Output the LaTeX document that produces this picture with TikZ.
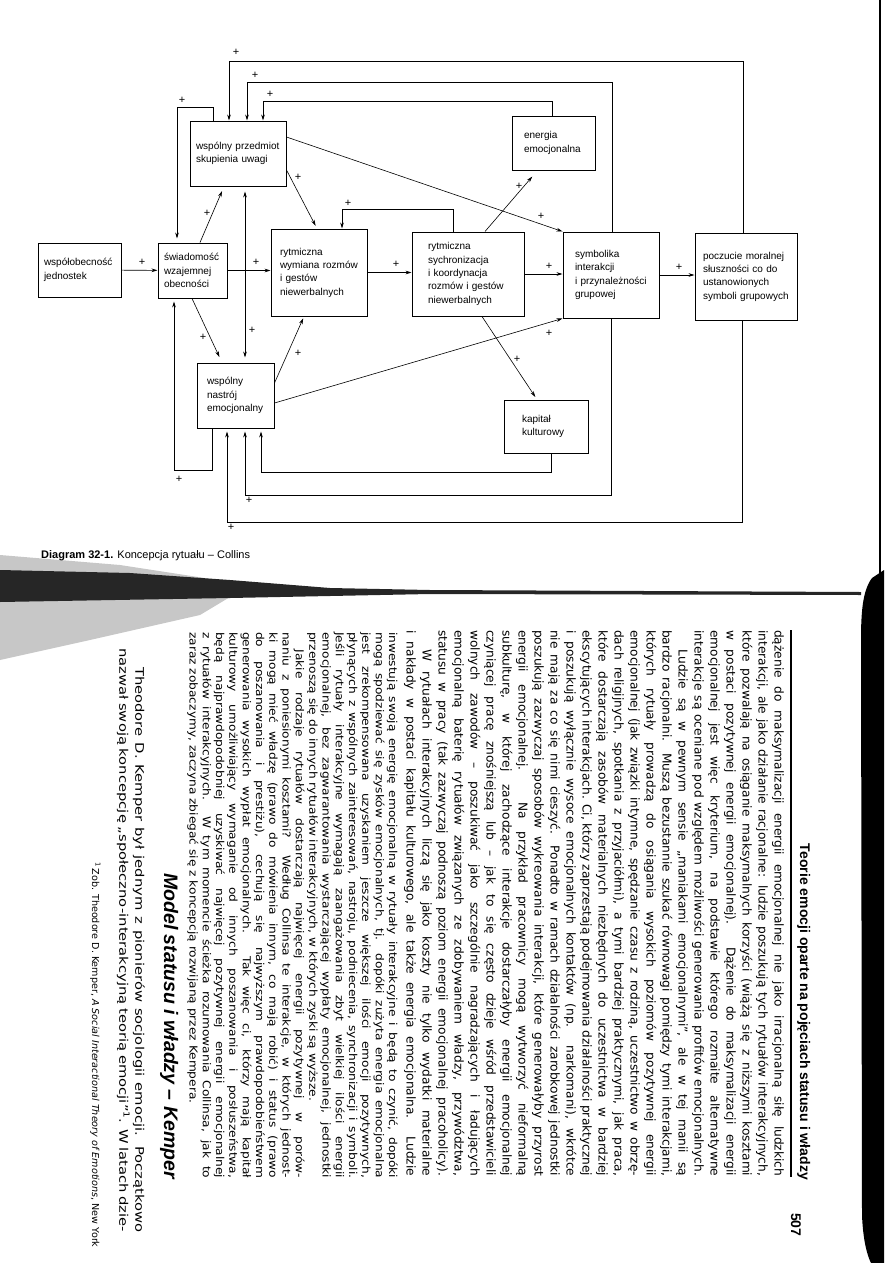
\documentclass[tikz,border=0pt]{standalone}
\usepackage{fontspec}
\setmainfont{Liberation Sans}
\newfontfamily\bodyfont{DejaVu Sans}
\newfontfamily\lowfont[FakeStretch=1.12]{DejaVu Sans}
\newfontfamily\widefont[FakeStretch=1.25]{DejaVu Sans}
\usetikzlibrary{positioning, arrows.meta, calc}

\newlength{\colw}
\setlength{\colw}{546pt}
\newcommand{\jl}[1]{\makebox[\colw][s]{#1}}
\newcommand{\el}[1]{\makebox[\colw][l]{#1}}
\newcommand{\ind}{\hspace*{1.6em}}

\begin{document}
\begin{tikzpicture}[x=1pt, y=-1pt]
    \tikzstyle{blk} = [draw, line width=1pt, align=left, inner xsep=6pt, font=\fontsize{10}{13.3}\selectfont]
    \tikzstyle{arrow} = [line width=0.6pt, -{Stealth[length=6pt, width=3.6pt]}]
    \tikzstyle{twoway} = [line width=0.6pt, {Stealth[length=6pt, width=3.6pt]}-{Stealth[length=6pt, width=3.6pt]}]
    \tikzstyle{pl} = [font=\fontsize{11}{11}\selectfont, inner sep=0pt]
    \tikzstyle{txt} = [rotate=-90, inner sep=0pt, align=left, font=\bodyfont\fontsize{12.2}{16}\selectfont]

    \useasboundingbox (0,0) rectangle (893,1263);

    % scan edges
    \fill[black!22] (0,555) -- (120,565) -- (250,585) -- (200,615) -- (90,640) -- (0,660) -- cycle;
    \fill[black!85] (0,570) -- (130,573) -- (230,580) -- (330,588) -- (430,590) -- (861,592) -- (861,595) -- (430,594) -- (330,596) -- (230,598) -- (0,602) -- cycle;
    \draw[line width=1.5pt] (880,0) -- (880,578);
    \fill[black] (884,570) -- (872,578) .. controls (863,590) and (861,610) .. (861,640) -- (862,1215) .. controls (863,1240) and (867,1255) .. (871,1263) -- (884,1263) -- cycle;

    % boxes
    \node[blk, minimum width=83pt, minimum height=54pt, text width=71pt] (wob) at (79.5,270) {współobecność\\jednostek};
    \node[blk, minimum width=69pt, minimum height=55pt, text width=57pt] (swo) at (192.5,270.5) {świadomość\\wzajemnej\\obecności};
    \node[blk, minimum width=96pt, minimum height=65pt, text width=84pt] (wpu) at (238,153.5) {wspólny przedmiot\\skupienia uwagi};
    \node[blk, minimum width=83pt, minimum height=54pt, inner xsep=12pt, text width=59pt] (ene) at (553.5,143) {energia\\emocjonalna};
    \node[blk, minimum width=96pt, minimum height=87pt, inner xsep=9pt, text width=78pt] (rwr) at (319,272.5) {rytmiczna\\wymiana rozmów\\i gestów\\niewerbalnych};
    \node[blk, minimum width=112pt, minimum height=84pt, inner xsep=16pt, text width=80pt] (rsk) at (468,274) {rytmiczna\\sychronizacja\\i koordynacja\\rozmów i gestów\\niewerbalnych};
    \node[blk, minimum width=96pt, minimum height=86pt, inner xsep=12pt, text width=72pt] (sym) at (611,275) {symbolika\\interakcji\\i przynależności\\grupowej};
    \node[blk, minimum width=102pt, minimum height=87pt, inner xsep=8pt, text width=86pt] (pmo) at (746,276.5) {poczucie moralnej\\słuszności co do\\ustanowionych\\symboli grupowych};
    \node[blk, minimum width=77pt, minimum height=65pt, inner xsep=10pt, text width=57pt] (nas) at (235.5,395.5) {wspólny\\nastrój\\emocjonalny};
    \node[blk, minimum width=84pt, minimum height=53pt, inner xsep=18pt, text width=48pt] (kap) at (546,426.5) {kapitał\\kulturowy};

    % main chain
    \draw[arrow] (wob) -- (swo) node[pl] (p1) at (142,262) {+};
    \draw[arrow] (swo.east) -- (swo.east -| rwr.west) node[pl] (p2) at (256,262) {+};
    \draw[arrow] (rwr.east) -- (rwr.east -| rsk.west) node[pl] (p3) at (396,264) {+};
    \draw[arrow] (rsk.east) -- (rsk.east -| sym.west) node[pl] (p4) at (549,266) {+};
    \draw[arrow] (sym.east) -- (sym.east -| pmo.west) node[pl] (p5) at (679,267) {+};

    % diagonals
    \draw[arrow, shorten >=5pt] ([xshift=7.5pt]swo.north) -- ([xshift=-14pt]wpu.south) node[pl] (p6) at (207,213) {+};
    \draw[twoway, shorten >=5pt, shorten <=5pt] ([xshift=7pt]wpu.south) -- ([xshift=9.5pt]nas.north) node[pl] (p7) at (252,330) {+};
    \draw[arrow, shorten >=3pt] ([yshift=-16.5pt]wpu.east) -- ([xshift=-2pt]rwr.north) node[pl] (p8) at (298,177) {+};
    \draw[arrow] ([yshift=16.5pt]wpu.east) -- (sym.north west) node[pl] (p9) at (541,216) {+};
    \draw[arrow, shorten >=8pt] ([xshift=17pt]rsk.north) -- ([xshift=-16pt]ene.south) node[pl] (p10) at (519,186) {+};
    \draw[arrow, shorten >=6pt] ([xshift=-0.5pt]swo.south) -- ([xshift=-13.5pt]nas.north) node[pl] (p11) at (203,337) {+};
    \draw[arrow, shorten >=2pt] ([yshift=12.5pt]nas.east) -- ([xshift=-15pt]rwr.south) node[pl] (p12) at (298,353) {+};
    \draw[arrow] ([yshift=-7.5pt]nas.east) -- (sym.south west) node[pl] (p13) at (549,333) {+};
    \draw[arrow, shorten >=3pt] ([xshift=14pt]rsk.south) -- ([xshift=-9pt]kap.north) node[pl] (p14) at (517,359) {+};

    % feedback loops, top
    \coordinate (k15) at (177,107);
    \coordinate (k16) at (342,209);
    \coordinate (k17) at (263,101);
    \coordinate (k18) at (247,82);
    \coordinate (k19) at (229,61);
    \draw[arrow, shorten >=4pt] ([xshift=-25pt]wpu.north) |- (k15) -- (k15 |- swo.north) node[pl] (p15) at (182,100) {+};
    \draw[arrow] ([xshift=-15pt]rsk.north) |- (k16) -- (k16 |- rwr.north) node[pl] (p16) at (348,203) {+};
    \draw[arrow] ([xshift=-1.5pt]ene.north) |- (k17) -- (k17 |- wpu.north) node[pl] (p17) at (270,94) {+};
    \draw[arrow] ([xshift=1pt]sym.north) |- (k18) -- (k18 |- wpu.north) node[pl] (p18) at (255,75) {+};
    \draw[arrow] ([xshift=-3pt]pmo.north) |- (k19) -- (k19 |- wpu.north) node[pl] (p19) at (236,52) {+};

    % feedback loops, bottom
    \coordinate (k20) at (174,470);
    \coordinate (k21) at (261,472);
    \coordinate (k22) at (245,495);
    \coordinate (k23) at (227,522);
    \draw[arrow, shorten >=3pt] ([xshift=-23.5pt]nas.south) |- (k20) -- (k20 |- swo.south) node[pl] (p20) at (179,479) {+};
    \draw[arrow, shorten >=3pt] ([xshift=5pt]kap.south) |- (k21) -- (k21 |- nas.south);
    \draw[arrow, shorten >=3pt] (sym.south) |- (k22) -- (k22 |- nas.south) node[pl] (p22) at (249,500) {+};
    \draw[arrow, shorten >=3pt] ([xshift=-4pt]pmo.south) |- (k23) -- (k23 |- nas.south) node[pl] (p23) at (231,527) {+};

    \node[anchor=base west, inner sep=0pt, font=\fontsize{11}{11}\selectfont] (cap) at (41,558) {\textbf{Diagram 32-1.} Koncepcja rytuału – Collins};

    % rotated page
    \node[anchor=base east, rotate=-90, inner sep=0pt, font=\bfseries\fontsize{14}{14}\selectfont] (ttl) at (800,1180) {Teorie emocji oparte na pojęciach statusu i władzy};
    \draw[line width=2pt] (791,630) -- (791,1177);
    \node[anchor=base west, rotate=-90, inner sep=0pt, font=\bfseries\fontsize{14}{14}\selectfont] (pgno) at (791,1213) {507};

    \node[txt, anchor=north west] (parA) at (784,630) {%
\jl{dążenie do maksymalizacji energii emocjonalnej nie jako irracjonalną siłę ludzkich}\\
\jl{interakcji, ale jako działanie racjonalne: ludzie poszukują tych rytuałów interakcyjnych,}\\
\jl{które pozwalają na osiąganie maksymalnych korzyści (wiążą się z niższymi kosztami}\\
\jl{w postaci pozytywnej energii emocjonalnej). Dążenie do maksymalizacji energii}\\
\jl{emocjonalnej jest więc kryterium, na podstawie którego rozmaite alternatywne}\\
\jl{interakcje są oceniane pod względem możliwości generowania profitów emocjonalnych.}\\
\jl{\ind Ludzie są w pewnym sensie „maniakami emocjonalnymi”, ale w tej manii są}\\
\jl{bardzo racjonalni. Muszą bezustannie szukać równowagi pomiędzy tymi interakcjami,}\\
\jl{których rytuały prowadzą do osiągania wysokich poziomów pozytywnej energii}\\
\jl{emocjonalnej (jak związki intymne, spędzanie czasu z rodziną, uczestnictwo w obrzę-}\\
\jl{dach religijnych, spotkania z przyjaciółmi), a tymi bardziej praktycznymi, jak praca,}\\
\jl{które dostarczają zasobów materialnych niezbędnych do uczestnictwa w bardziej}\\
\jl{ekscytujących interakcjach. Ci, którzy zaprzestają podejmowania działalności praktycznej}\\
\jl{i poszukują wyłącznie wysoce emocjonalnych kontaktów (np. narkomani), wkrótce}\\
\jl{nie mają za co się nimi cieszyć. Ponadto w ramach działalności zarobkowej jednostki}\\
\jl{poszukują zazwyczaj sposobów wykreowania interakcji, które generowałyby przyrost}\\
\jl{energii emocjonalnej. Na przykład pracownicy mogą wytworzyć nieformalną}\\
\jl{subkulturę, w której zachodzące interakcje dostarczałyby energii emocjonalnej}\\
\jl{czyniącej pracę znośniejszą lub – jak to się często dzieje wśród przedstawicieli}\\
\jl{wolnych zawodów – poszukiwać jako szczególnie nagradzających i ładujących}\\
\jl{emocjonalną baterię rytuałów związanych ze zdobywaniem władzy, przywództwa,}\\
\jl{statusu w pracy (tak zazwyczaj podnoszą poziom energii emocjonalnej pracoholicy).}\\
\jl{\ind W rytuałach interakcyjnych liczą się jako koszty nie tylko wydatki materialne}\\
\jl{i nakłady w postaci kapitału kulturowego, ale także energia emocjonalna. Ludzie}};

    \node[txt, anchor=north west, font=\lowfont\fontsize{10.9}{13.3}\selectfont] (parB) at (398,632) {%
\jl{inwestują swoją energię emocjonalną w rytuały interakcyjne i będą to czynić, dopóki}\\
\jl{mogą spodziewać się zysków emocjonalnych, tj. dopóki zużyta energia emocjonalna}\\
\jl{jest zrekompensowana uzyskaniem jeszcze większej ilości emocji pozytywnych,}\\
\jl{płynących z wspólnych zainteresowań, nastroju, podniecenia, synchronizacji i symboli.}\\
\jl{Jeśli rytuały interakcyjne wymagają zaangażowania zbyt wielkiej ilości energii}\\
\jl{emocjonalnej, bez zagwarantowania wystarczającej wypłaty emocjonalnej, jednostki}\\
\el{przenoszą się do innych rytuałów interakcyjnych, w których zyski są wyższe.}\\
\jl{\ind Jakie rodzaje rytuałów dostarczają najwięcej energii pozytywnej w porów-}\\
\jl{naniu z poniesionymi kosztami? Według Collinsa te interakcje, w których jednost-}\\
\jl{ki mogą mieć władzę (prawo do mówienia innym, co mają robić) i status (prawo}\\
\jl{do poszanowania i prestiżu), cechują się najwyższym prawdopodobieństwem}\\
\jl{generowania wysokich wypłat emocjonalnych. Tak więc ci, którzy mają kapitał}\\
\jl{kulturowy umożliwiający wymaganie od innych poszanowania i posłuszeństwa,}\\
\jl{będą najprawdopodobniej uzyskiwać najwięcej pozytywnej energii emocjonalnej}\\
\jl{z rytuałów interakcyjnych. W tym momencie ścieżka rozumowania Collinsa, jak to}\\
\el{zaraz zobaczymy, zaczyna zbiegać się z koncepcją rozwijaną przez Kempera.}};

    \node[anchor=base east, rotate=-90, inner sep=0pt, font=\bfseries\itshape\fontsize{19.5}{19.5}\selectfont] (hd) at (164,1179) {Model statusu i władzy – Kemper};

    \node[txt, anchor=north west, font=\widefont\fontsize{11.8}{16}\selectfont] (parC) at (145,648) {%
\makebox[584pt][s]{\ind Theodore D. Kemper był jednym z pionierów socjologii emocji. Początkowo}\\
\makebox[584pt][s]{nazwał swoją koncepcję „społeczno-interakcyjną teorią emocji”\textsuperscript{1}. W latach dzie-}};

    \node[anchor=base west, rotate=-90, inner sep=0pt, font=\bodyfont\fontsize{9.6}{12}\selectfont] (fn) at (92,862) {\textsuperscript{1}\,Zob. Theodore D. Kemper, \textit{A Social Interactional Theory of Emotions}, New York};
\end{tikzpicture}
\end{document}
